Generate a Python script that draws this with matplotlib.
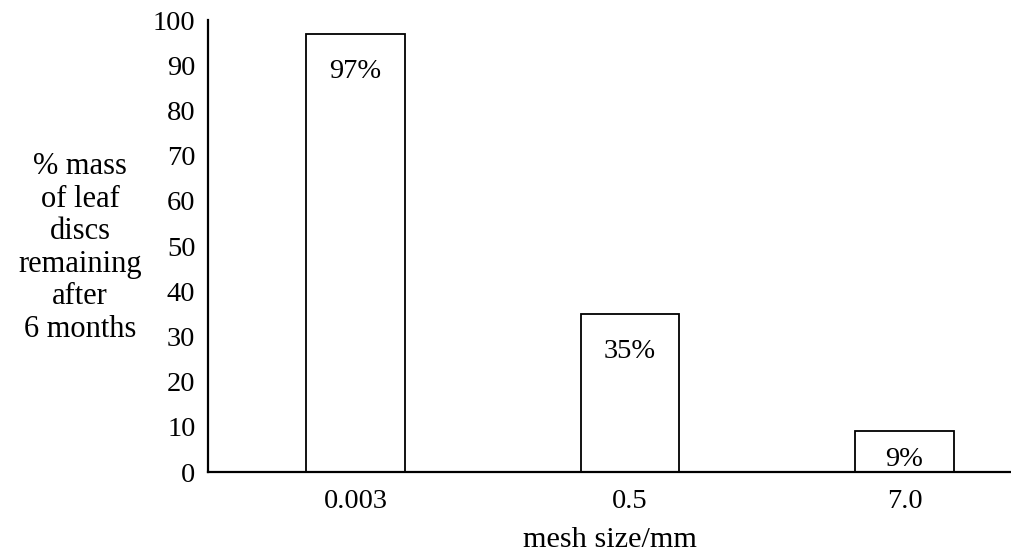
import matplotlib.pyplot as plt

plt.rcParams['font.family'] = ['Liberation Serif', 'DejaVu Serif']

mesh = ['0.003', '0.5', '7.0']
remaining = [97, 35, 9]
yticks = [0, 10, 20, 30, 40, 50, 60, 70, 80, 90, 100]

fs = 20.5

fig = plt.figure(figsize=(10.11, 5.59), dpi=100)
ax = fig.add_axes([0.2057, 0.1556, 0.7943, 0.8086])

x = range(len(mesh))
ax.bar(x, remaining, width=0.36, color='white', edgecolor='black', linewidth=1.3)

for i, v in enumerate(remaining):
    y = v - 8.4 if v > 20 else v * 0.3
    ax.text(i, y, f'{v}%', ha='center', va='center', fontsize=fs)

ax.set_xlim(-0.537, 2.388)
ax.set_ylim(0, 100)
ax.set_xticks(list(x))
ax.set_xticklabels(mesh)
ax.set_yticks(yticks)
ax.tick_params(axis='both', length=0, labelsize=fs)
ax.tick_params(axis='x', pad=12)
ax.tick_params(axis='y', pad=9)

for s in ['top', 'right']:
    ax.spines[s].set_visible(False)
for s in ['left', 'bottom']:
    ax.spines[s].set_linewidth(1.6)

ax.set_xlabel('mesh size/mm', fontsize=21.8, labelpad=9.5)
fig.text(80 / 1011, 1 - 248 / 559, '% mass\nof leaf\ndiscs\nremaining\nafter\n6 months',
         ha='center', va='center', fontsize=22, linespacing=1.16)

fig.savefig('out.png', dpi=100)
